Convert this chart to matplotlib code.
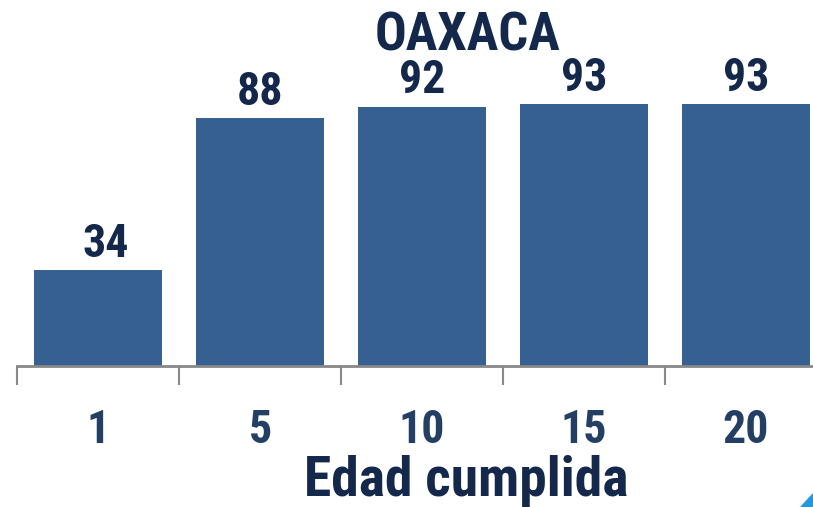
import matplotlib
matplotlib.use("Agg")
import matplotlib.pyplot as plt
from matplotlib import font_manager
from matplotlib.patches import Polygon

# Chart data
edades = ["1", "5", "10", "15", "20"]
valores = [34, 88, 92, 93, 93]
titulo = "OAXACA"
xlabel = "Edad cumplida"

bar_color = "#366092"
text_color = "#14284B"
tick_color = "#243F64"

# pick a condensed face if one is installed
installed = {f.name for f in font_manager.fontManager.ttflist}
wanted = ["Roboto Condensed", "Liberation Sans Narrow", "Arial Narrow",
          "Open Sans Condensed", "Roboto"]
face = next((w for w in wanted if w in installed), "DejaVu Sans")
plt.rcParams["font.family"] = [face, "DejaVu Sans"]
plt.rcParams["font.stretch"] = "condensed"

fig = plt.figure(figsize=(8.13, 5.07), dpi=100)
# axes spans a bit past the right edge (chart is cropped in the reference)
ax = fig.add_axes([17 / 813, 141 / 507, 810 / 813, 366 / 507])

x = list(range(len(edades)))
ax.bar(x, valores, width=0.785, color=bar_color)
ax.set_xlim(-0.5, len(edades) - 0.5)
ax.set_ylim(0, 129.8)

# the first label sits a little right of its bar in the original
label_shift = [8, 0, 0, 0, 0]
for xi, v, dx in zip(x, valores, label_shift):
    ax.annotate(str(v), (xi, v), xytext=(dx * 0.72, 3), textcoords="offset points",
                ha="center", va="bottom",
                fontsize=33, fontweight="bold", color=text_color)

ax.set_xticks(x)
ax.set_xticklabels(edades, fontsize=33, fontweight="bold", color=tick_color)
ax.tick_params(axis="x", which="major", length=0, pad=30)
ax.set_xticks([i - 0.5 for i in range(len(edades) + 1)], minor=True)
ax.tick_params(axis="x", which="minor", length=14, width=1.5, color="#888888")
ax.set_yticks([])

for s in ["top", "right", "left"]:
    ax.spines[s].set_visible(False)
ax.spines["bottom"].set_color("#888888")
ax.spines["bottom"].set_linewidth(2)

fig.text(467 / 813, 1 - 36 / 507, titulo, ha="center", va="center",
         fontsize=38, fontweight="bold", color=text_color)
fig.text(466 / 813, 1 - 496 / 507, xlabel, ha="center", va="baseline",
         fontsize=40, fontweight="bold", color=text_color)

# small cropped logo corner bottom-right
fig.patches.append(Polygon([[800 / 813, 0], [813 / 813, 0], [813 / 813, 14 / 507]],
                           closed=True, transform=fig.transFigure,
                           color="#1E9BE0", zorder=5))

fig.savefig("out.png", dpi=100)
